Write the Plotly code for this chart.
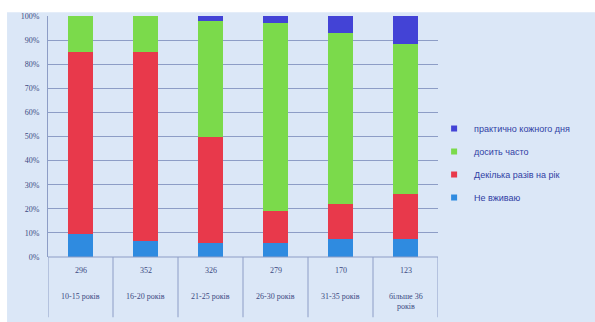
import plotly.graph_objects as go

# Age groups, respondent counts and answer shares (%)
age_groups = ["10-15 років", "16-20 років", "21-25 років", "26-30 років", "31-35 років", "більше 36<br>років"]
counts = ["296", "352", "326", "279", "170", "123"]

series_names = ["Не вживаю", "Декілька разів на рік", "досить часто", "практично кожного дня"]
never = [9.5, 6.5, 6, 6, 7.5, 7.5]
few_times = [75.5, 78.5, 44, 13, 14.5, 18.5]
often = [15, 15, 48, 78, 71, 62.5]
daily = [0, 0, 2, 3, 7, 11.5]
series_values = [never, few_times, often, daily]
series_colors = ["#2f8be0", "#e8394b", "#7bda4b", "#4343d6"]

x_pos = list(range(len(age_groups)))

fig = go.Figure()
for i, (name, vals, col) in enumerate(zip(series_names, series_values, series_colors)):
    fig.add_trace(go.Bar(
        x=x_pos, y=vals, name=name, marker=dict(color=col, line=dict(width=0)),
        width=0.38, showlegend=False,
    ))
# Small square legend keys, top entry = top of the stack
n = len(series_names)
for i, (name, col) in enumerate(zip(series_names, series_colors)):
    fig.add_trace(go.Scatter(
        x=[None], y=[None], mode="markers", name=name,
        marker=dict(symbol="square", size=6, color=col),
        legendgroup=f"g{i}", legendrank=1000 + (n - i),
    ))

grid_col = "#8d9dc6"
text_col = "#3b4a82"

fig.update_layout(
    barmode="stack",
    width=595, height=322,
    margin=dict(l=48, r=157, t=13, b=65),
    paper_bgcolor="#dbe7f7",
    plot_bgcolor="#dbe7f7",
    font=dict(family="Liberation Serif", size=8, color=text_col),
    showlegend=True,
    legend=dict(
        x=0.99, y=0.39, xanchor="left", yanchor="middle",
        traceorder="grouped", tracegroupgap=4, itemwidth=30,
        font=dict(family="Liberation Sans", size=9, color="#3040a4"),
        bgcolor="rgba(0,0,0,0)",
    ),
    xaxis=dict(
        range=[-0.5, len(age_groups) - 0.5], showticklabels=False,
        showgrid=False, zeroline=False, showline=False, ticks="",
    ),
    yaxis=dict(
        range=[0, 100], dtick=10, ticksuffix="%",
        showgrid=True, gridcolor=grid_col, gridwidth=1,
        zeroline=False, showline=True, linecolor=grid_col, linewidth=1,
        ticks="", ticklabelstandoff=6,
        tickfont=dict(family="Liberation Serif", size=8, color=text_col),
    ),
)

# Category table under the bars: separators, counts and age-group labels
for k in range(len(age_groups) + 1):
    fig.add_shape(type="line", xref="x", yref="paper",
                  x0=k - 0.5, x1=k - 0.5, y0=0, y1=-0.25,
                  line=dict(color=grid_col, width=1))
fig.add_shape(type="line", xref="paper", yref="paper", x0=0, x1=1, y0=0, y1=0,
              line=dict(color=grid_col, width=1))

for xi, cnt, lab in zip(x_pos, counts, age_groups):
    fig.add_annotation(x=xi, y=-0.057, xref="x", yref="paper", text=cnt,
                       showarrow=False, yanchor="middle",
                       font=dict(family="Liberation Serif", size=8, color=text_col))
    fig.add_annotation(x=xi, y=-0.135, xref="x", yref="paper", text=lab,
                       showarrow=False, yanchor="top",
                       font=dict(family="Liberation Serif", size=8, color=text_col))

# White edge along the top and left of the page
fig.add_shape(type="rect", xref="paper", yref="paper", x0=-0.2, x1=1.5, y0=1.016, y1=1.1,
              fillcolor="white", line=dict(width=0), layer="above")
fig.add_shape(type="rect", xref="paper", yref="paper", x0=-0.2, x1=-0.105, y0=-0.4, y1=1.1,
              fillcolor="white", line=dict(width=0), layer="above")

fig.write_html("out.html")
